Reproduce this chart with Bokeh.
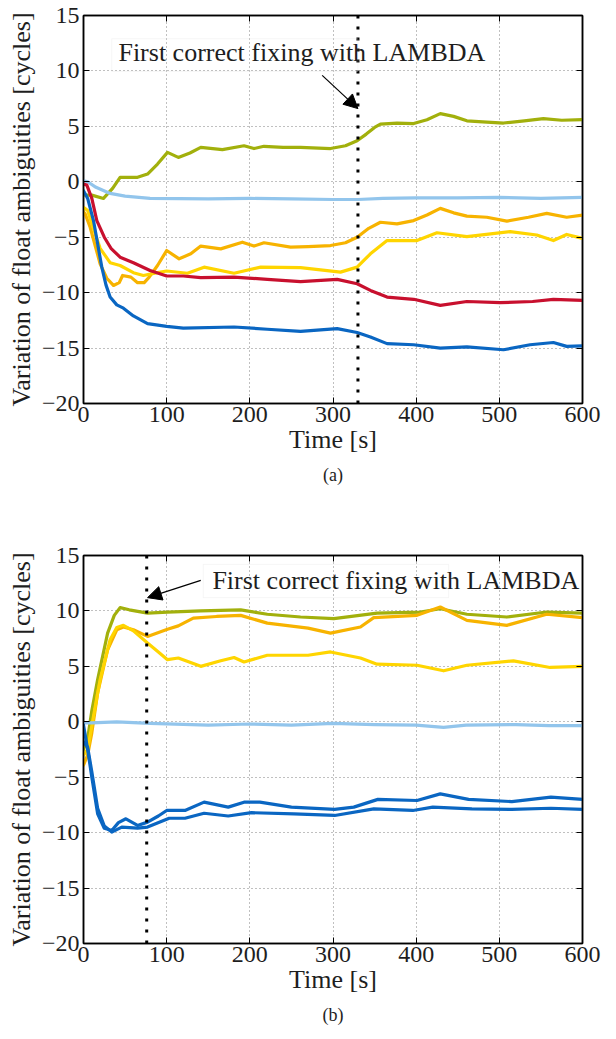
from bokeh.plotting import figure
from bokeh.models import (Range1d, FixedTicker, LinearAxis, Span, Label, BoxAnnotation,
                          Arrow, NormalHead, Title)
from bokeh.layouts import column
from bokeh.embed import file_html
from bokeh.resources import INLINE

# ---------------- data (a) ----------------
a_fix_time = 330
a_green_t = [0, 10, 24, 35, 44, 65, 77, 89, 101, 114, 128, 141, 167, 193, 205, 217, 240, 261, 297, 315, 329, 340, 350, 357, 377, 397, 413, 429, 445, 461, 480, 505, 530, 553, 575, 600]
a_green_v = [-1.2, -1.2, -1.5, -0.6, 0.4, 0.4, 0.7, 1.6, 2.65, 2.2, 2.6, 3.1, 2.9, 3.25, 3.0, 3.2, 3.1, 3.1, 3.0, 3.25, 3.7, 4.3, 4.9, 5.2, 5.3, 5.25, 5.6, 6.15, 5.9, 5.5, 5.4, 5.3, 5.5, 5.7, 5.55, 5.6]
a_lblue_t = [0, 5, 15, 32, 50, 80, 150, 200, 250, 300, 330, 360, 400, 450, 500, 550, 600]
a_lblue_v = [0.1, 0.0, -0.5, -1.05, -1.3, -1.5, -1.55, -1.5, -1.55, -1.6, -1.6, -1.5, -1.45, -1.45, -1.4, -1.5, -1.4]
a_orange_t = [0, 2, 8, 20, 28, 36, 43, 47, 57, 65, 73, 79, 89, 100, 115, 129, 141, 165, 191, 205, 217, 249, 270, 297, 315, 329, 343, 357, 377, 397, 413, 429, 445, 461, 485, 509, 535, 557, 581, 600]
a_orange_v = [-2.7, -2.9, -4.1, -7.4, -8.7, -9.35, -9.1, -8.45, -8.6, -9.1, -9.1, -8.6, -7.55, -6.2, -6.95, -6.5, -5.8, -6.05, -5.45, -5.8, -5.5, -5.9, -5.85, -5.75, -5.5, -5.0, -4.2, -3.65, -3.8, -3.5, -3.0, -2.4, -2.8, -3.1, -3.2, -3.55, -3.2, -2.85, -3.2, -3.0]
a_yellow_t = [0, 5, 10, 20, 32, 44, 60, 72, 89, 100, 125, 145, 181, 213, 261, 309, 329, 345, 365, 401, 425, 461, 513, 545, 565, 581, 600]
a_yellow_v = [-2.3, -2.6, -3.8, -6.0, -7.3, -7.55, -8.2, -8.45, -8.2, -8.05, -8.25, -7.7, -8.25, -7.7, -7.75, -8.15, -7.7, -6.5, -5.3, -5.3, -4.6, -4.95, -4.5, -4.8, -5.3, -4.75, -5.1]
a_red_t = [0, 4, 10, 16, 25, 33, 44, 60, 80, 100, 120, 141, 181, 221, 261, 305, 329, 345, 365, 397, 429, 461, 501, 540, 565, 600]
a_red_v = [-0.2, -0.3, -1.5, -3.5, -5.0, -6.0, -6.8, -7.3, -8.0, -8.5, -8.5, -8.65, -8.6, -8.8, -9.0, -8.8, -9.2, -9.8, -10.4, -10.6, -11.15, -10.8, -10.9, -10.8, -10.6, -10.7]
a_blue_t = [0, 5, 12, 22, 27, 32, 40, 48, 60, 77, 100, 120, 181, 221, 261, 305, 329, 345, 365, 397, 429, 461, 505, 537, 565, 581, 600]
a_blue_v = [-0.8, -1.5, -3.5, -7.7, -9.3, -10.4, -11.1, -11.4, -12.1, -12.8, -13.05, -13.2, -13.1, -13.3, -13.5, -13.25, -13.6, -14.0, -14.6, -14.7, -15.0, -14.9, -15.15, -14.7, -14.5, -14.85, -14.8]

# ---------------- data (b) ----------------
b_fix_time = 76
b_green_t = [0, 5, 10, 17, 29, 37, 44, 55, 77, 101, 141, 189, 221, 261, 301, 353, 405, 429, 461, 509, 557, 600]
b_green_v = [-2.5, -1.5, 1.0, 3.8, 8.0, 9.6, 10.3, 10.1, 9.8, 9.9, 10.0, 10.1, 9.7, 9.45, 9.3, 9.8, 9.9, 10.2, 9.7, 9.45, 9.9, 9.8]
b_orange_t = [0, 5, 10, 17, 29, 40, 48, 60, 77, 101, 114, 132, 160, 189, 221, 270, 297, 333, 349, 401, 429, 461, 509, 557, 600]
b_orange_v = [-3.9, -3.0, -1.0, 2.6, 6.5, 8.3, 8.55, 8.3, 7.7, 8.35, 8.65, 9.35, 9.5, 9.6, 8.9, 8.45, 8.0, 8.55, 9.4, 9.6, 10.35, 9.15, 8.7, 9.7, 9.4]
b_yellow_t = [0, 5, 12, 20, 32, 40, 48, 60, 77, 90, 101, 114, 141, 165, 181, 193, 221, 270, 297, 333, 353, 401, 433, 461, 517, 561, 600]
b_yellow_v = [-3.0, -2.5, 0.5, 3.8, 7.4, 8.5, 8.7, 8.2, 7.1, 6.3, 5.6, 5.75, 5.0, 5.5, 5.8, 5.4, 6.0, 6.0, 6.3, 5.75, 5.2, 5.1, 4.6, 5.1, 5.5, 4.9, 5.0]
b_lblue_t = [0, 10, 40, 80, 150, 200, 250, 300, 350, 400, 433, 460, 520, 560, 600]
b_lblue_v = [-0.1, -0.1, 0.0, -0.15, -0.3, -0.2, -0.3, -0.15, -0.25, -0.3, -0.5, -0.3, -0.25, -0.35, -0.35]
b_blue1_t = [0, 5, 10, 17, 25, 34, 42, 51, 65, 77, 90, 100, 122, 145, 174, 193, 212, 250, 302, 325, 354, 401, 429, 463, 515, 562, 600]
b_blue1_v = [-0.3, -2.5, -5.0, -8.3, -9.6, -9.8, -9.1, -8.75, -9.35, -9.05, -8.5, -8.0, -8.0, -7.25, -7.7, -7.25, -7.25, -7.7, -7.9, -7.7, -7.0, -7.1, -6.5, -7.0, -7.2, -6.8, -7.0]
b_blue2_t = [0, 5, 10, 17, 25, 34, 46, 65, 77, 103, 122, 145, 174, 202, 253, 302, 349, 396, 420, 467, 515, 562, 600]
b_blue2_v = [-1.8, -2.3, -4.5, -7.8, -9.4, -9.95, -9.5, -9.6, -9.5, -8.7, -8.7, -8.25, -8.5, -8.2, -8.3, -8.45, -7.85, -8.0, -7.7, -7.85, -7.9, -7.8, -7.9]

x_ticks = [0, 100, 200, 300, 400, 500, 600]
y_ticks = [-20, -15, -10, -5, 0, 5, 10, 15]
annot_text = "First correct fixing with LAMBDA"
x_label = "Time [s]"
y_label = "Variation of float ambiguities [cycles]"

GREEN = "#a2b00c"
LBLUE = "#92c5ec"
ORANGE = "#f7b300"
YELLOW = "#ffd500"
RED = "#c8102e"
BLUE = "#0a66c2"
SERIF = "'Liberation Serif', serif"
TXT = "#1e1e1e"


def make_panel(series, fix_time, caption, min_top, min_bottom):
    p = figure(frame_width=499, frame_height=388, output_backend="svg", toolbar_location=None,
               x_range=Range1d(0, 600), y_range=Range1d(-20, 15),
               min_border_left=83, min_border_right=34, min_border_top=min_top,
               min_border_bottom=min_bottom, x_axis_label=x_label, y_axis_label=y_label)
    p.outline_line_color = "black"
    p.outline_line_width = 1.5
    p.background_fill_color = "white"
    p.border_fill_color = "white"
    for ax in p.axis:
        ax.major_label_text_font = SERIF
        ax.major_label_text_font_size = "24px"
        ax.major_label_text_color = TXT
        ax.axis_label_text_font = SERIF
        ax.axis_label_text_font_size = "26px"
        ax.axis_label_text_font_style = "normal"
        ax.axis_label_text_color = TXT
        ax.major_tick_in = 6
        ax.major_tick_out = 0
        ax.minor_tick_line_color = None
        ax.axis_line_color = "black"
        ax.axis_line_width = 1.5
    p.xaxis.ticker = FixedTicker(ticks=x_ticks)
    p.yaxis.ticker = FixedTicker(ticks=y_ticks)
    p.xaxis.major_label_standoff = 3
    p.xaxis.axis_label_standoff = 0
    p.yaxis.major_label_standoff = 4
    p.yaxis.axis_label_standoff = 3
    # mirrored axes: inward ticks only
    for side, tk in (("right", y_ticks), ("above", x_ticks)):
        ax = LinearAxis(ticker=FixedTicker(ticks=tk),
                        major_label_overrides={t: "" for t in tk},
                        major_tick_in=6, major_tick_out=0, minor_tick_line_color=None,
                        axis_line_color="black", axis_line_width=1.5, major_label_standoff=0)
        p.add_layout(ax, side)
    p.grid.grid_line_color = "#555555"
    p.grid.grid_line_dash = "1 3"
    p.grid.grid_line_width = 1
    p.grid.grid_line_alpha = 0.75
    p.xgrid.ticker = FixedTicker(ticks=x_ticks)
    p.ygrid.ticker = FixedTicker(ticks=y_ticks)

    for t, v, c in series:
        p.line(t, v, line_color=c, line_width=3.2, line_join="round", line_cap="round")

    p.add_layout(Span(location=fix_time, dimension="height", line_color="black",
                      line_width=3, line_dash="3 8"))
    cap = Title(text=caption, align="center", text_font=SERIF, text_font_size="18px",
                text_font_style="normal", text_color=TXT, standoff=12)
    p.add_layout(cap, "below")
    return p


pa = make_panel([(a_green_t, a_green_v, GREEN), (a_lblue_t, a_lblue_v, LBLUE),
                 (a_orange_t, a_orange_v, ORANGE), (a_yellow_t, a_yellow_v, YELLOW),
                 (a_red_t, a_red_v, RED), (a_blue_t, a_blue_v, BLUE)],
                a_fix_time, "(a)", 15, 100)
pa.add_layout(BoxAnnotation(left=34, right=330, top=12.9, bottom=9.95, fill_alpha=0,
                            line_color="#e2e2e2", line_width=1))
pa.add_layout(Label(x=42, y=11.7, text=annot_text, text_font=SERIF, text_font_size="26px",
                    text_color=TXT, text_baseline="alphabetic"))
pa.add_layout(Arrow(x_start=287, y_start=9.6, x_end=a_fix_time, y_end=6.6, line_width=1.2,
                    end=NormalHead(size=14, fill_color="black", line_color="black")))

pb = make_panel([(b_green_t, b_green_v, GREEN), (b_orange_t, b_orange_v, ORANGE),
                 (b_yellow_t, b_yellow_v, YELLOW), (b_lblue_t, b_lblue_v, LBLUE),
                 (b_blue1_t, b_blue1_v, BLUE), (b_blue2_t, b_blue2_v, BLUE)],
                b_fix_time, "(b)", 52, 94)
pb.add_layout(BoxAnnotation(left=144, right=439, top=14.2, bottom=11.2, fill_alpha=0,
                            line_color="#e2e2e2", line_width=1))
pb.add_layout(Label(x=155, y=12.75, text=annot_text, text_font=SERIF, text_font_size="26px",
                    text_color=TXT, text_baseline="alphabetic"))
pb.add_layout(Arrow(x_start=141, y_start=12.75, x_end=b_fix_time + 1, y_end=11.2, line_width=1.2,
                    end=NormalHead(size=14, fill_color="black", line_color="black")))

layout = column(pa, pb, spacing=0)
open("out.html", "w").write(file_html(layout, INLINE))
